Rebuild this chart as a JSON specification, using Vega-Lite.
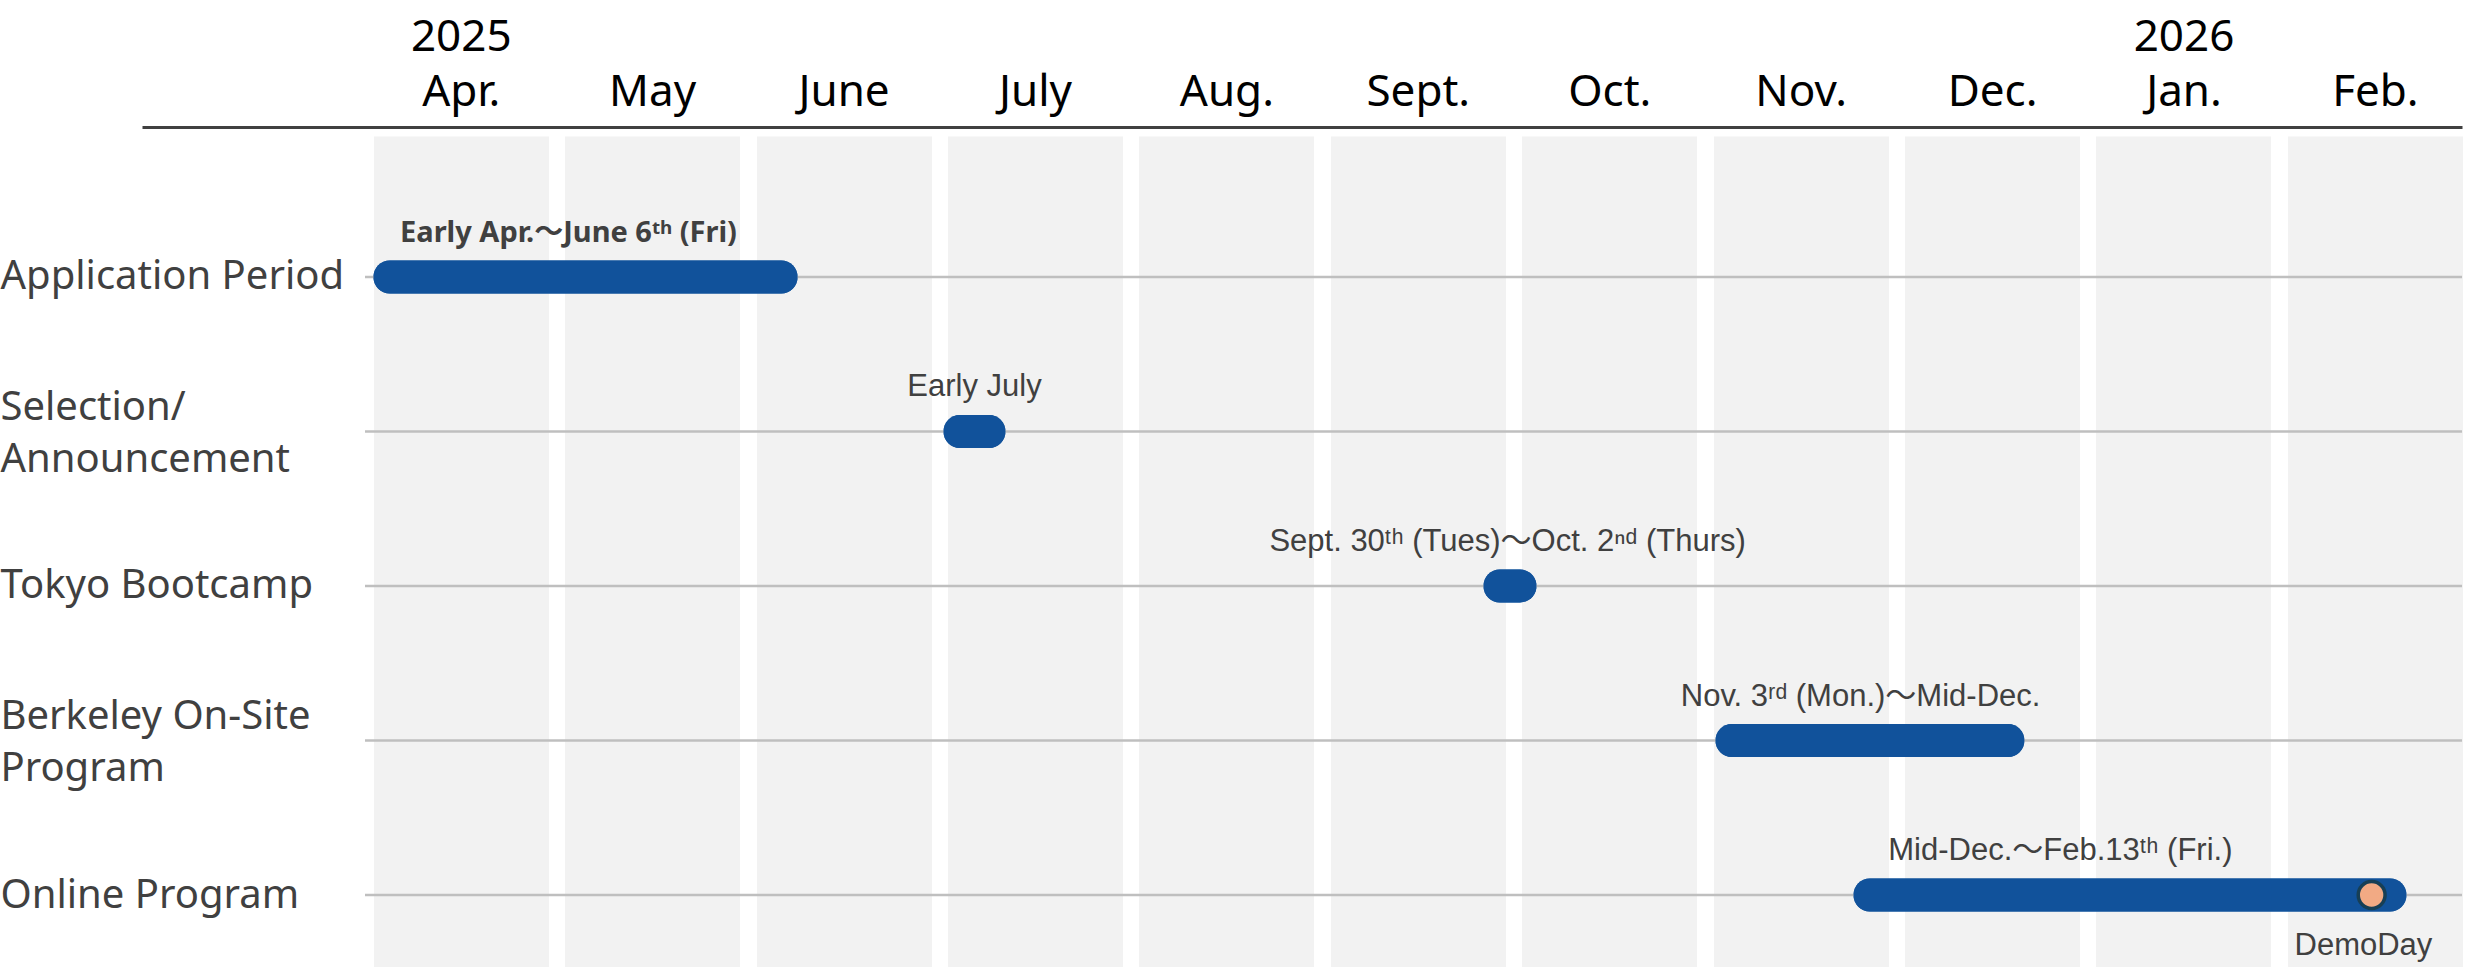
{
  "$schema": "https://vega.github.io/schema/vega-lite/v6.json",
  "width": 2320,
  "height": 831,
  "autosize": {"type": "none"},
  "padding": {"left": 142, "top": 136, "right": 9, "bottom": 0},
  "background": "#ffffff",
  "config": {"view": {"stroke": null}},
  "datasets": {
    "bars": [
      {"task": "Application Period", "start": 0.044, "end": 2.26},
      {"task": "Selection/ Announcement", "start": 3.022, "end": 3.346},
      {"task": "Tokyo Bootcamp", "start": 5.843, "end": 6.12},
      {"task": "Berkeley On-Site Program", "start": 7.055, "end": 8.669},
      {"task": "Online Program", "start": 7.776, "end": 10.665}
    ],
    "labels": [
      {"task": "Application Period", "label": "Early Apr.～June 6ᵗʰ (Fri)", "pos": 1.063, "bold": true},
      {"task": "Selection/ Announcement", "label": "Early July", "pos": 3.184, "bold": false},
      {"task": "Tokyo Bootcamp", "label": "Sept. 30ᵗʰ (Tues)～Oct. 2ⁿᵈ (Thurs)", "pos": 5.969, "bold": false},
      {"task": "Berkeley On-Site Program", "label": "Nov. 3ʳᵈ (Mon.)～Mid-Dec.", "pos": 7.813, "bold": false},
      {"task": "Online Program", "label": "Mid-Dec.～Feb.13ᵗʰ (Fri.)", "pos": 8.857, "bold": false}
    ],
    "demo": [
      {"task": "Online Program", "date": 10.483, "label": "DemoDay", "labelPos": 10.44}
    ]
  },
  "encoding": {
    "y": {
      "field": "task", "type": "nominal",
      "scale": {"type": "point", "domain": ["Application Period", "Selection/ Announcement", "Tokyo Bootcamp", "Berkeley On-Site Program", "Online Program"], "padding": 0.689, "align": 0.662},
      "axis": {
        "title": null, "orient": "left", "domain": false, "ticks": false, "grid": false,
        "labelAlign": "left", "labelBaseline": "middle", "labelPadding": 142,
        "labelFont": "Noto Sans", "labelFontSize": 40, "labelColor": "#404040",
        "labelLimit": 0, "labelLineHeight": 52,
        "labelOffset": {"condition": {"test": "datum.label == 'Selection/ Announcement' || datum.label == 'Berkeley On-Site Program'", "value": -24}, "value": 0},
        "labelExpr": "datum.label == 'Selection/ Announcement' ? ['Selection/', 'Announcement'] : datum.label == 'Berkeley On-Site Program' ? ['Berkeley On-Site', 'Program'] : datum.label"
      }
    }
  },
  "layer": [
    {
      "data": {"name": "bars"},
      "mark": {"type": "bar", "color": "#11529B", "size": 33, "cornerRadius": 16.5},
      "encoding": {
        "x": {
          "field": "start", "type": "quantitative",
          "scale": {"domain": [-1.165, 10.955], "nice": false, "zero": false},
          "axis": {
            "title": null, "orient": "top", "values": [0.5, 1.5, 2.5, 3.5, 4.5, 5.5, 6.5, 7.5, 8.5, 9.5, 10.5],
            "ticks": false, "domain": true, "domainColor": "#404040", "domainWidth": 3, "offset": 9,
            "grid": true, "gridColor": "#F2F2F2", "gridWidth": 175,
            "labelFont": "Noto Sans", "labelFontSize": 44, "labelColor": "#000000",
            "labelPadding": 68, "labelLineHeight": 55, "labelBaseline": "bottom", "labelAlign": "center",
            "labelOverlap": false, "labelFlush": false,
            "labelExpr": "[['2025','Apr.'],['','May'],['','June'],['','July'],['','Aug.'],['','Sept.'],['','Oct.'],['','Nov.'],['','Dec.'],['2026','Jan.'],['','Feb.']][floor(datum.value)]"
          }
        },
        "x2": {"field": "end"}
      }
    },
    {
      "data": {"name": "bars"},
      "mark": {"type": "rule", "color": "#BFBFBF", "strokeWidth": 2.5},
      "encoding": {
        "x": {"datum": 0.0, "type": "quantitative", "title": null},
        "x2": {"datum": 10.955}
      }
    },
    {
      "data": {"name": "bars"},
      "mark": {"type": "bar", "color": "#11529B", "size": 33, "cornerRadius": 16.5},
      "encoding": {
        "x": {"field": "start", "type": "quantitative", "title": null},
        "x2": {"field": "end"}
      }
    },
    {
      "data": {"name": "demo"},
      "mark": {"type": "point", "shape": "circle", "filled": true, "fill": "#F2AA84", "stroke": "#173F55", "strokeWidth": 3.5, "size": 720, "opacity": 1},
      "encoding": {
        "x": {"field": "date", "type": "quantitative", "title": null}
      }
    },
    {
      "data": {"name": "labels"},
      "transform": [{"filter": "!datum.bold"}],
      "mark": {"type": "text", "font": "Liberation Sans, Noto Sans CJK JP", "fontSize": 31, "color": "#404040", "baseline": "middle", "align": "center", "dy": -44},
      "encoding": {
        "x": {"field": "pos", "type": "quantitative", "title": null},
        "text": {"field": "label"}
      }
    },
    {
      "data": {"name": "labels"},
      "transform": [{"filter": "datum.bold"}],
      "mark": {"type": "text", "font": "Noto Sans, Noto Sans CJK JP", "fontWeight": "bold", "fontSize": 29, "color": "#404040", "baseline": "middle", "align": "center", "dy": -44},
      "encoding": {
        "x": {"field": "pos", "type": "quantitative", "title": null},
        "text": {"field": "label"}
      }
    },
    {
      "data": {"name": "demo"},
      "mark": {"type": "text", "font": "Liberation Sans", "fontSize": 31, "color": "#404040", "baseline": "middle", "align": "center", "dy": 51},
      "encoding": {
        "x": {"field": "labelPos", "type": "quantitative", "title": null},
        "text": {"field": "label"}
      }
    }
  ]
}
